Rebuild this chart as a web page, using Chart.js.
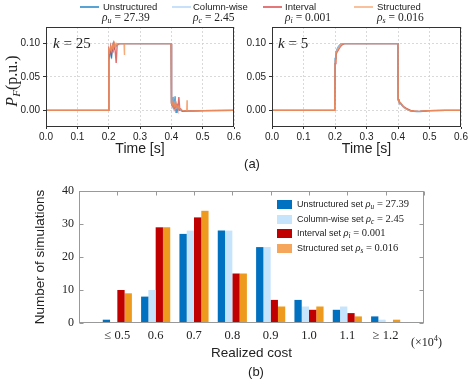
<!DOCTYPE html>
<html><head><meta charset="utf-8">
<script src="https://cdn.jsdelivr.net/npm/chart.js@4.4.0/dist/chart.umd.min.js"></script>
<style>
html,body{margin:0;padding:0;background:#fff;}
#wrap{position:relative;width:469px;height:381px;overflow:hidden;background:#fff;font-family:'Liberation Sans',Arial,sans-serif;color:#222;}
canvas{position:absolute;left:0;top:0;}
.t{position:absolute;white-space:nowrap;line-height:1;}
.m{font-family:'Liberation Serif','Times New Roman',serif;}
.m sub{font-size:70%;vertical-align:-0.25em;line-height:0;}
.ln{position:absolute;height:2.5px;width:19px;}
.sw{position:absolute;width:15px;height:9px;}
</style></head><body>
<div id="wrap">
<canvas id="cA" width="469" height="381"></canvas>
<canvas id="cB" width="469" height="381"></canvas>
<canvas id="cC" width="469" height="381"></canvas>

<!-- top legend -->
<div class="ln" style="left:80px;top:5.5px;background:rgba(0,114,189,0.65)"></div>
<div class="t" style="left:103px;top:2px;font-size:9.5px">Unstructured</div>
<div class="t m" style="left:102px;top:11.5px;font-size:11.5px"><i>ρ</i><sub><i>u</i></sub> = 27.39</div>
<div class="ln" style="left:172px;top:5.5px;background:rgba(160,205,245,0.6)"></div>
<div class="t" style="left:193px;top:2px;font-size:9.5px">Column-wise</div>
<div class="t m" style="left:193px;top:11.5px;font-size:11.5px"><i>ρ</i><sub><i>c</i></sub> = 2.45</div>
<div class="ln" style="left:263px;top:5.5px;background:rgba(210,30,30,0.6)"></div>
<div class="t" style="left:285px;top:2px;font-size:9.5px">Interval</div>
<div class="t m" style="left:285px;top:11.5px;font-size:11.5px"><i>ρ</i><sub><i>i</i></sub> = 0.001</div>
<div class="ln" style="left:354px;top:5.5px;background:rgba(245,150,90,0.6)"></div>
<div class="t" style="left:377px;top:2px;font-size:9.5px">Structured</div>
<div class="t m" style="left:377px;top:11.5px;font-size:11.5px"><i>ρ</i><sub><i>s</i></sub> = 0.016</div>

<div class="t m" style="left:12px;top:81px;font-size:16px;transform:translate(-50%,-50%) rotate(-90deg)"><i>P</i><sub><i>F</i></sub>(p.u.)</div>
<div class="t m" style="left:53px;top:36px;font-size:15px"><i>k</i> = 25</div>
<div class="t m" style="left:278px;top:36px;font-size:15px"><i>k</i> = 5</div>
<div class="t" style="left:252px;top:163px;font-size:13px;transform:translate(-50%,-50%)">(a)</div>
<div class="t" style="left:256px;top:371px;font-size:13px;transform:translate(-50%,-50%)">(b)</div>
<div class="t m" style="left:411px;top:335px;font-size:12px">(×10<sup style="font-size:70%">4</sup>)</div>

<!-- bar legend -->
<div class="sw" style="left:277px;top:199.8px;background:#0070C0"></div>
<div class="t" style="left:297px;top:199px;font-size:9px">Unstructured set <span class="m" style="font-size:10.5px"><i>ρ</i><sub><i>u</i></sub> = 27.39</span></div>
<div class="sw" style="left:277px;top:214.5px;background:#C6E4FB"></div>
<div class="t" style="left:297px;top:213.7px;font-size:9px">Column-wise set <span class="m" style="font-size:10.5px"><i>ρ</i><sub><i>c</i></sub> = 2.45</span></div>
<div class="sw" style="left:277px;top:228.8px;background:#C00000"></div>
<div class="t" style="left:297px;top:228px;font-size:9px">Interval set <span class="m" style="font-size:10.5px"><i>ρ</i><sub><i>i</i></sub> = 0.001</span></div>
<div class="sw" style="left:277px;top:244px;background:#F6A65B"></div>
<div class="t" style="left:297px;top:243.2px;font-size:9px">Structured set <span class="m" style="font-size:10.5px"><i>ρ</i><sub><i>s</i></sub> = 0.016</span></div>
</div>

<script>
// ---------- data: panel (a) ----------
const seriesNames = ['Unstructured', 'Column-wise', 'Interval', 'Structured'];
const xTicksA = [0, 0.1, 0.2, 0.3, 0.4, 0.5, 0.6];
const yTicksA = [0, 0.05, 0.1];

const times25 = [0, 0.199, 0.2005, 0.203, 0.206, 0.209, 0.212, 0.215, 0.218, 0.221, 0.224, 0.227, 0.23, 0.235, 0.24, 0.249, 0.25, 0.251, 0.26, 0.3, 0.35, 0.3995, 0.4005, 0.403, 0.406, 0.409, 0.412, 0.415, 0.418, 0.421, 0.424, 0.427, 0.43, 0.435, 0.44, 0.449, 0.45, 0.451, 0.46, 0.5, 0.6];
const unstructured25 = [0, 0, 0.088, 0.082, 0.092, 0.078, 0.095, 0.101, 0.094, 0.098, 0.097, 0.099, 0.1, 0.1, 0.1, 0.1, 0.1, 0.1, 0.1, 0.1, 0.1, 0.1, 0.012, 0.008, 0.02, 0.002, 0.021, -0.003, 0.006, 0.002, 0.004, 0.001, 0, -0.001, -0.001, -0.001, -0.001, -0.001, -0.001, -0.0005, 0];
const column25 = [0, 0, 0.09, 0.086, 0.094, 0.088, 0.097, 0.093, 0.099, 0.096, 0.099, 0.1, 0.1, 0.1, 0.1, 0.1, 0.1, 0.1, 0.1, 0.1, 0.1, 0.1, 0.01, 0.006, 0.015, 0.004, 0.012, 0.003, 0.007, 0.002, 0.003, 0.001, 0, -0.001, -0.001, -0.001, -0.001, -0.001, -0.001, -0.0005, 0];
const interval25 = [0, 0, 0.09, 0.085, 0.095, 0.084, 0.096, 0.09, 0.098, 0.088, 0.071, 0.097, 0.099, 0.1, 0.1, 0.1, 0.1, 0.1, 0.1, 0.1, 0.1, 0.1, 0.01, 0.007, 0.012, 0.003, 0.009, 0.004, 0.01, 0.002, 0.02, 0.001, 0.002, -0.001, -0.001, -0.001, -0.001, -0.001, -0.001, -0.0005, 0];
const structured25 = [0, 0, 0.091, 0.088, 0.095, 0.09, 0.097, 0.092, 0.1, 0.095, 0.1, 0.098, 0.1, 0.1, 0.1, 0.1, 0.083, 0.1, 0.1, 0.1, 0.1, 0.1, 0.011, 0.008, 0.013, 0.005, 0.01, 0.004, 0.008, 0.003, 0.006, 0.002, 0.001, 0, -0.0005, -0.001, 0.015, -0.001, -0.001, -0.0005, 0];

const times5 = [0, 0.199, 0.2005, 0.203, 0.206, 0.21, 0.215, 0.22, 0.225, 0.23, 0.24, 0.25, 0.3, 0.35, 0.3995, 0.4005, 0.403, 0.406, 0.41, 0.415, 0.42, 0.43, 0.44, 0.45, 0.46, 0.47, 0.48, 0.5, 0.55, 0.6];
const unstructured5 = [0, 0, 0.078, 0.087, 0.091, 0.095, 0.098, 0.1, 0.1, 0.1, 0.1, 0.1, 0.1, 0.1, 0.1, 0.016, 0.013, 0.011, 0.009, 0.006, 0.004, 0.001, -0.001, -0.0015, -0.002, -0.002, -0.0015, -0.0005, 0, 0];
const column5 = [0, 0, 0.077, 0.086, 0.09, 0.094, 0.098, 0.1, 0.1, 0.1, 0.1, 0.1, 0.1, 0.1, 0.1, 0.015, 0.012, 0.011, 0.009, 0.006, 0.004, 0.001, -0.0005, -0.0012, -0.0015, -0.0015, -0.001, -0.0005, 0, 0];
const interval5 = [0, 0, 0.07, 0.083, 0.087, 0.09, 0.094, 0.097, 0.099, 0.1, 0.1, 0.1, 0.1, 0.1, 0.1, 0.017, 0.014, 0.012, 0.01, 0.007, 0.005, 0.002, 0, -0.001, -0.0015, -0.0015, -0.001, -0.0005, 0, 0];
const structured5 = [0, 0, 0.074, 0.085, 0.089, 0.092, 0.096, 0.099, 0.1, 0.1, 0.1, 0.1, 0.1, 0.1, 0.1, 0.016, 0.013, 0.012, 0.01, 0.007, 0.004, 0.001, -0.0005, -0.001, -0.0015, -0.0015, -0.001, -0.0005, 0, 0];

// ---------- data: panel (b) ----------
const costLabels = ['', '≤ 0.5', '0.6', '0.7', '0.8', '0.9', '1.0', '1.1', '≥ 1.2', ''];
const setNames = ['Unstructured set', 'Column-wise set', 'Interval set', 'Structured set'];
const unstructuredCounts = [null, 1, 8, 27, 28, 23, 7, 4, 2, null];
const columnCounts = [null, 0, 10, 28, 28, 23, 5, 5, 1, null];
const intervalCounts = [null, 10, 29, 32, 15, 7, 4, 3, 0, null];
const structuredCounts = [null, 9, 29, 34, 15, 5, 5, 2, 1, null];
const yTicksB = [0, 10, 20, 30, 40];

// ---------- styles ----------
const lineColors = ['rgba(0,114,189,0.7)', 'rgba(150,200,245,0.8)', 'rgba(210,30,30,0.65)', 'rgba(245,150,90,0.8)'];
const barColors = ['#0070C0', '#C6E4FB', '#C00000', '#EE9A1E'];
const SANS = "'Liberation Sans', Arial, sans-serif";
const SERIF = "'Liberation Serif', 'Times New Roman', serif";

const frame = {
  id: 'frame',
  afterDraw(chart, args, o) {
    const {ctx, chartArea: a} = chart;
    ctx.save();
    ctx.strokeStyle = o.color; ctx.lineWidth = o.width;
    const L = Math.round(a.left) + 0.5, T = Math.round(a.top) + 0.5;
    const R = Math.round(a.right) - 0.5, B = Math.round(a.bottom) - 0.5;
    ctx.strokeRect(L, T, R - L, B - T);
    if (o.tick) {
      ctx.beginPath();
      const xs = chart.scales.x, ys = chart.scales.y;
      xs.ticks.forEach((t, i) => { const p = Math.round(xs.getPixelForTick(i)) + 0.5; ctx.moveTo(p, T); ctx.lineTo(p, T + o.tick); });
      ys.ticks.forEach((t, i) => { const p = Math.round(ys.getPixelForTick(i)) + 0.5; ctx.moveTo(R, p); ctx.lineTo(R - o.tick, p); ctx.moveTo(L, p); ctx.lineTo(L + o.tick, p); });
      ctx.stroke();
    }
    ctx.restore();
  }
};

function lineDatasets(times, arrs) {
  return arrs.map((vals, k) => ({
    label: seriesNames[k],
    data: times.map((t, i) => ({x: t, y: vals[i]})),
    borderColor: lineColors[k], borderWidth: 1.4, pointRadius: 0, tension: 0, fill: false,
    order: arrs.length - 1 - k
  }));
}

function lineChart(id, datasets, padLeft, padRight) {
  return new Chart(document.getElementById(id), {
    type: 'line',
    data: {datasets},
    plugins: [frame],
    options: {
      responsive: false, animation: false, devicePixelRatio: 1,
      layout: {padding: {left: padLeft, right: padRight, top: 27, bottom: 223}},
      plugins: {legend: {display: false}, tooltip: {enabled: false}, frame: {color: '#333', width: 1}},
      scales: {
        x: {
          type: 'linear', min: 0, max: 0.6,
          afterBuildTicks: s => { s.ticks = xTicksA.map(v => ({value: v})); },
          afterFit: s => { s.height = 31; s.paddingLeft = 0; s.paddingRight = 0; },
          ticks: {callback: v => v.toFixed(1), font: {family: SANS, size: 10}, color: '#222', padding: 2, maxRotation: 0},
          grid: {color: '#d0d0d0', lineWidth: 0.8, drawTicks: true, tickLength: 2, tickColor: '#333', tickWidth: 1},
          border: {display: false, dash: [2, 2]},
          title: {display: true, text: 'Time [s]', font: {family: SANS, size: 14}, color: '#222', padding: 0}
        },
        y: {
          type: 'linear', min: -0.025, max: 0.125,
          afterBuildTicks: s => { s.ticks = yTicksA.map(v => ({value: v})); },
          afterFit: s => { s.width = 46; s.paddingTop = 0; s.paddingBottom = 0; },
          ticks: {callback: v => v.toFixed(2), font: {family: SANS, size: 10}, color: '#222', padding: 3},
          grid: {color: '#d0d0d0', lineWidth: 0.8, drawTicks: true, tickLength: 3, tickColor: '#333', tickWidth: 1},
          border: {display: false, dash: [2, 2]}
        }
      }
    }
  });
}

lineChart('cA', lineDatasets(times25, [unstructured25, column25, interval25, structured25]), 0, 235);
lineChart('cB', lineDatasets(times5, [unstructured5, column5, interval5, structured5]), 226, 8);

new Chart(document.getElementById('cC'), {
  type: 'bar',
  data: {
    labels: costLabels,
    datasets: [unstructuredCounts, columnCounts, intervalCounts, structuredCounts].map((d, k) => ({
      label: setNames[k], data: d, backgroundColor: barColors[k], borderWidth: 0,
      categoryPercentage: 0.76, barPercentage: 1
    }))
  },
  plugins: [frame],
  options: {
    responsive: false, animation: false, devicePixelRatio: 1,
    layout: {padding: {left: 32, right: 45, top: 191, bottom: 20}},
    plugins: {legend: {display: false}, tooltip: {enabled: false}, frame: {color: '#999', width: 1, tick: 4}},
    scales: {
      x: {
        type: 'category', offset: false,
        afterFit: s => { s.height = 38; s.paddingLeft = 0; s.paddingRight = 0; },
        ticks: {font: {family: SERIF, size: 12.5}, color: '#222', padding: 5, autoSkip: false, maxRotation: 0},
        grid: {display: false, drawTicks: false},
        border: {display: false},
        title: {display: true, text: 'Realized cost', font: {family: SANS, size: 13.5}, color: '#222', padding: 0}
      },
      y: {
        type: 'linear', min: 0, max: 40,
        afterBuildTicks: s => { s.ticks = yTicksB.map(v => ({value: v})); },
        afterFit: s => { s.width = 47; s.paddingTop = 0; s.paddingBottom = 0; },
        ticks: {font: {family: SERIF, size: 12}, color: '#222', padding: 5},
        grid: {display: false, drawTicks: false},
        border: {display: false},
        title: {display: true, text: 'Number of simulations', font: {family: SANS, size: 13.5}, color: '#222', padding: 0}
      }
    }
  }
});
</script>
</body></html>
